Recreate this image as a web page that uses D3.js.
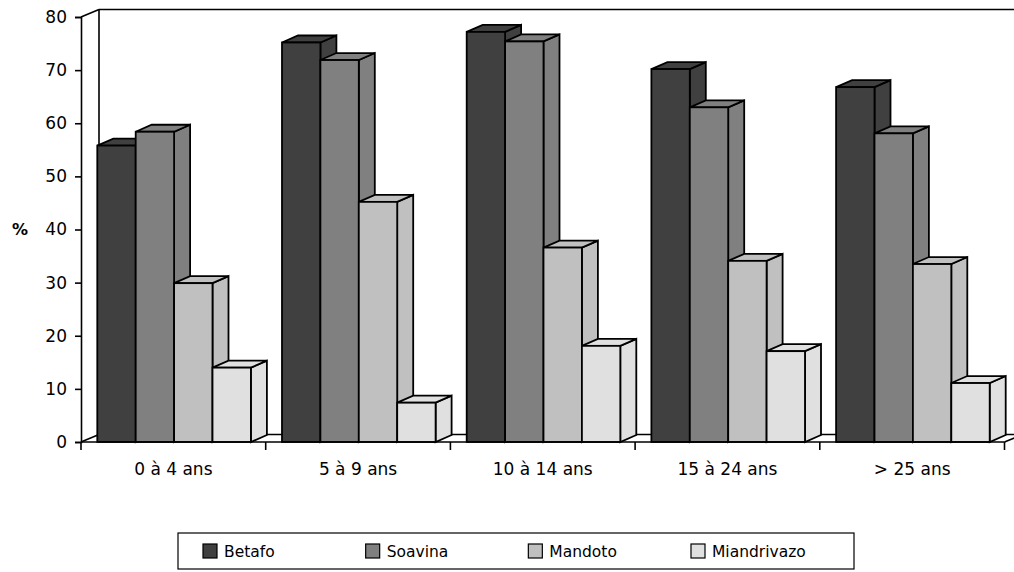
<!DOCTYPE html>
<html>
<head>
<meta charset="utf-8">
<script src="https://cdn.jsdelivr.net/npm/d3@7/dist/d3.min.js"></script>
<style>
  html, body { margin: 0; padding: 0; background: #fff; }
  svg { display: block; }
  text { font-family: "DejaVu Sans", Verdana, sans-serif; fill: #000; }
</style>
</head>
<body>
<svg id="chart" width="1014" height="572"></svg>
<script>
// Age groups along the horizontal axis
const categories = ["0 à 4 ans", "5 à 9 ans", "10 à 14 ans", "15 à 24 ans", "> 25 ans"];
// One series per district
const seriesNames = ["Betafo", "Soavina", "Mandoto", "Miandrivazo"];
const betafo      = [55.8, 75.2, 77.2, 70.2, 66.8];
const soavina     = [58.4, 71.9, 75.4, 63.0, 58.1];
const mandoto     = [29.9, 45.2, 36.6, 34.1, 33.5];
const miandrivazo = [14.0, 7.4, 18.1, 17.1, 11.1];
const yTicks = [0, 10, 20, 30, 40, 50, 60, 70, 80];
const seriesColors = ["#404040", "#808080", "#c0c0c0", "#e0e0e0"];

const seriesValues = [betafo, soavina, mandoto, miandrivazo];

const svg = d3.select("#chart");

// Plot frame
const plotLeft = 81, plotRight = 1004.5, plotTop = 17, plotBottom = 442;
const wallDx = 18, wallDy = -7.5;   // depth of walls / floor
const barDx = 16, barDy = -7;       // depth of each bar

const x = d3.scaleBand().domain(categories).range([plotLeft, plotRight]).paddingInner(0).paddingOuter(0);
const groupOffset = 16.3, barW = 38.4;
const xs = d3.scaleBand().domain(seriesNames)
  .range([groupOffset, groupOffset + barW * seriesNames.length]).padding(0);
const y = d3.scaleLinear().domain([0, 80]).range([plotBottom, plotTop]);

const ink = "#000";

// Walls and floor (outlined, unfilled)
const walls = svg.append("g").attr("fill", "none").attr("stroke", ink).attr("stroke-width", 1.6);
// back wall: left vertical edge and top edge
walls.append("line").attr("x1", plotLeft + wallDx).attr("y1", y(80) + wallDy)
  .attr("x2", plotLeft + wallDx).attr("y2", y(0) + wallDy);
walls.append("line").attr("x1", plotLeft + wallDx).attr("y1", y(80) + wallDy)
  .attr("x2", 1030).attr("y2", y(80) + wallDy);
// side wall top and bottom edges
walls.append("line").attr("x1", plotLeft).attr("y1", y(80))
  .attr("x2", plotLeft + wallDx).attr("y2", y(80) + wallDy);
walls.append("line").attr("x1", plotLeft).attr("y1", y(0))
  .attr("x2", plotLeft + wallDx).attr("y2", y(0) + wallDy);
// floor: back edge and right edge
walls.append("line").attr("x1", plotLeft + wallDx).attr("y1", y(0) + wallDy)
  .attr("x2", plotRight + wallDx).attr("y2", y(0) + wallDy);
walls.append("line").attr("x1", plotRight).attr("y1", y(0))
  .attr("x2", plotRight + wallDx).attr("y2", y(0) + wallDy);

// 3D bars, drawn left to right so each front face covers its neighbour's side
const bars = svg.append("g").attr("stroke", ink).attr("stroke-width", 1.8).attr("stroke-linejoin", "miter");
categories.forEach((cat, ci) => {
  seriesNames.forEach((name, si) => {
    const v = seriesValues[si][ci];
    const x0 = x(cat) + xs(name);
    const x1 = x0 + xs.bandwidth();
    const yT = y(v), yB = y(0);
    const g = bars.append("g").attr("fill", seriesColors[si]);
    // side face
    g.append("path").attr("d",
      `M${x1},${yT}L${x1 + barDx},${yT + barDy}L${x1 + barDx},${yB + barDy}L${x1},${yB}Z`);
    // top face
    g.append("path").attr("d",
      `M${x0},${yT}L${x0 + barDx},${yT + barDy}L${x1 + barDx},${yT + barDy}L${x1},${yT}Z`);
    // front face
    g.append("rect").attr("x", x0).attr("y", yT).attr("width", x1 - x0).attr("height", yB - yT);
  });
});

// Front floor edge over the bar bases
svg.append("line").attr("x1", plotLeft).attr("y1", y(0)).attr("x2", plotRight).attr("y2", y(0))
  .attr("stroke", ink).attr("stroke-width", 1.6);

// Y axis
const yAxis = svg.append("g").attr("transform", `translate(${plotLeft},0)`)
  .call(d3.axisLeft(y).tickValues(yTicks).tickSize(6).tickPadding(8).tickFormat(d3.format("d")));
yAxis.select(".domain").attr("stroke", ink).attr("stroke-width", 1.6);
yAxis.selectAll(".tick line").attr("stroke", ink).attr("stroke-width", 1.6);
yAxis.selectAll(".tick text").attr("font-size", 17).attr("font-family", "DejaVu Sans, sans-serif").attr("fill", ink);

// X axis: ticks at category boundaries, labels centred in each band
const xAxis = svg.append("g").attr("transform", `translate(0,${plotBottom})`);
const boundaries = categories.map(c => x(c)).concat([plotRight]);
xAxis.selectAll("line.tick").data(boundaries).join("line")
  .attr("x1", d => d).attr("x2", d => d).attr("y1", 0).attr("y2", 8)
  .attr("stroke", ink).attr("stroke-width", 1.6);
xAxis.selectAll("text").data(categories).join("text")
  .attr("x", d => x(d) + x.bandwidth() / 2).attr("y", 33)
  .attr("text-anchor", "middle").attr("font-size", 17).text(d => d);

// Y axis title
svg.append("text").attr("x", 20).attr("y", 235).attr("text-anchor", "middle")
  .attr("font-size", 16).attr("font-weight", "bold").text("%");

// Legend
const legend = svg.append("g");
legend.append("rect").attr("x", 178).attr("y", 533).attr("width", 676).attr("height", 36)
  .attr("fill", "#fff").attr("stroke", ink).attr("stroke-width", 1.2);
const legendX = d3.scalePoint().domain(seriesNames).range([203, 691]);
const items = legend.selectAll("g.item").data(seriesNames).join("g")
  .attr("transform", d => `translate(${legendX(d)},544)`);
items.append("rect").attr("width", 14).attr("height", 14)
  .attr("fill", (d, i) => seriesColors[i]).attr("stroke", ink).attr("stroke-width", 1.2);
items.append("text").attr("x", 21).attr("y", 13).attr("font-size", 15.5).text(d => d);
</script>
</body>
</html>
